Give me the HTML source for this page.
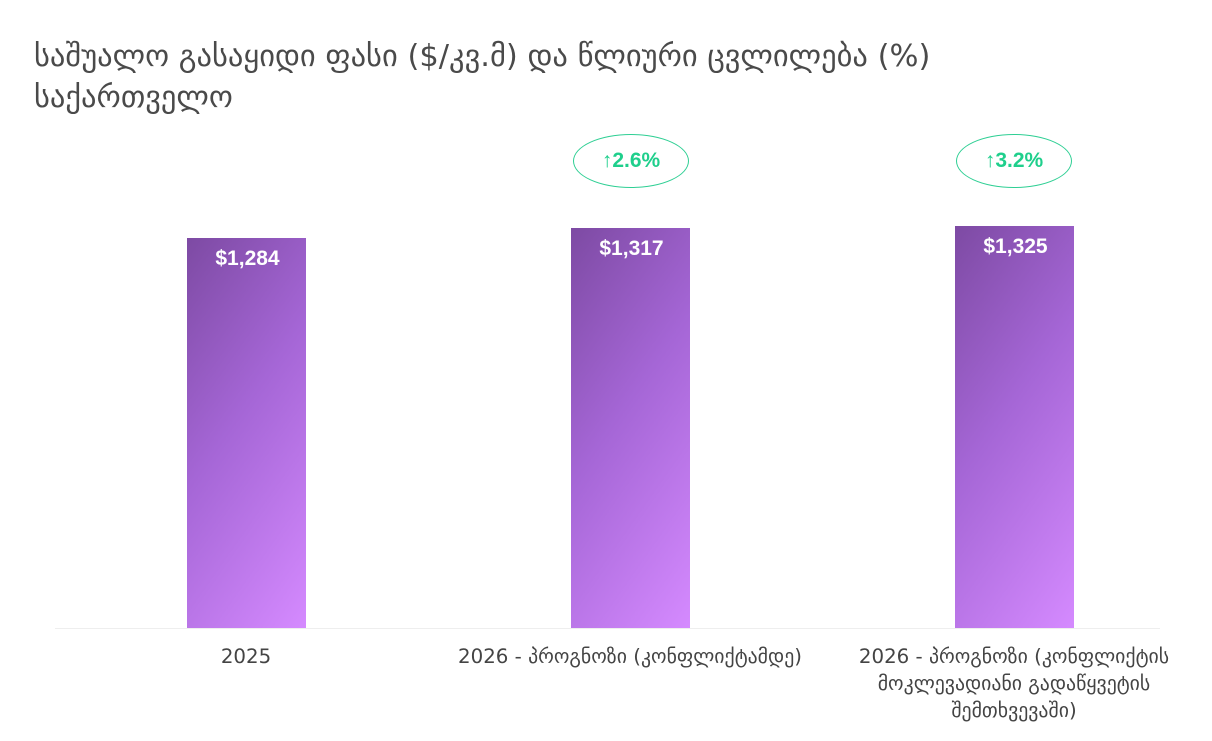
<!DOCTYPE html>
<html><head><meta charset="utf-8"><style>
body{margin:0;width:1212px;height:741px;background:#fff;overflow:hidden;font-family:"Liberation Sans","DejaVu Sans",sans-serif;}
.t{position:absolute;left:34px;top:36px;font-size:30.5px;line-height:41px;color:#4a4a4a;font-family:"DejaVu Sans",sans-serif;white-space:nowrap;}
.bar{position:absolute;width:119px;background:linear-gradient(125deg,#7d4aa3 0%,#a566d6 45%,#d58aff 100%);}
.v{position:absolute;width:119px;text-align:center;color:#fff;font-weight:bold;font-size:21px;}
.lab{position:absolute;text-align:center;font-size:19.8px;line-height:27px;color:#444;font-family:"DejaVu Sans",sans-serif;}
.el{position:absolute;width:114px;height:52px;border:1.5px solid #2fcf94;border-radius:50%;color:#1fcf8c;font-weight:bold;font-size:21px;text-align:center;line-height:52px;}
.ax{position:absolute;left:55px;top:628px;width:1105px;height:1px;background:#eee;}
</style></head><body>
<div class="t">საშუალო გასაყიდი ფასი ($/კვ.მ) და წლიური ცვლილება (%)<br>საქართველო</div>
<div class="bar" style="left:187px;top:238px;height:390px"></div>
<div class="bar" style="left:571px;top:228px;height:400px"></div>
<div class="bar" style="left:955px;top:226px;height:402px"></div>
<div class="v" style="left:188px;top:247px">$1,284</div>
<div class="v" style="left:572px;top:237px">$1,317</div>
<div class="v" style="left:956px;top:235px">$1,325</div>
<div class="el" style="left:573px;top:134px">↑2.6%</div>
<div class="el" style="left:956px;top:134px">↑3.2%</div>
<div class="ax"></div>
<div class="lab" style="left:66px;width:360px;top:643px">2025</div>
<div class="lab" style="left:430px;width:400px;top:643px">2026 - პროგნოზი (კონფლიქტამდე)</div>
<div class="lab" style="left:849px;width:330px;top:643px">2026 - პროგნოზი (კონფლიქტის მოკლევადიანი გადაწყვეტის შემთხვევაში)</div>
</body></html>
